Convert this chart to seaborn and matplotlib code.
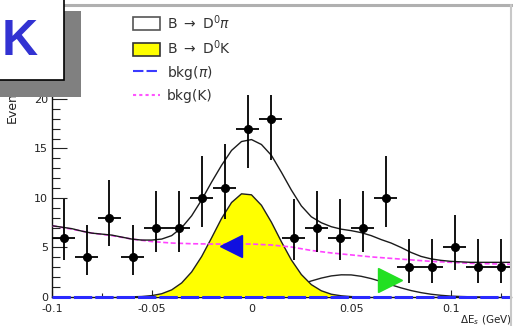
import numpy as np
import matplotlib
matplotlib.use("Agg")
import matplotlib.pyplot as plt
import seaborn as sns
from matplotlib.patches import Rectangle, Patch
from matplotlib.lines import Line2D
from matplotlib.ticker import MultipleLocator

# ---------------- data ----------------
bin_centers = [-0.0942, -0.0827, -0.0712, -0.0596, -0.0481, -0.0365, -0.0250, -0.0135,
               -0.0019, 0.0096, 0.0212, 0.0327, 0.0442, 0.0558, 0.0673, 0.0788,
               0.0904, 0.1019, 0.1135, 0.1250]
counts = [6, 4, 8, 4, 7, 7, 10, 11, 17, 18, 6, 7, 6, 7, 10, 3, 3, 5, 3, 3]
err_lo = [2.3, 1.8, 2.8, 1.8, 2.5, 2.5, 2.9, 3.1, 4.0, 4.2, 2.3, 2.5, 2.3, 2.5, 2.9, 1.6, 1.6, 2.3, 1.6, 1.6]
err_hi = [3.9, 3.3, 3.8, 3.3, 3.7, 3.7, 4.2, 4.5, 4.6, 5.3, 3.9, 3.7, 3.9, 3.7, 4.2, 2.9, 2.9, 3.3, 2.9, 2.9]
bin_half_width = 0.00577

total_x = [-0.100, -0.095, -0.090, -0.085, -0.080, -0.075, -0.070, -0.065, -0.060, -0.055,
           -0.050, -0.045, -0.040, -0.035, -0.030, -0.025, -0.020, -0.015, -0.010, -0.005,
           0.000, 0.005, 0.010, 0.015, 0.020, 0.025, 0.030, 0.035, 0.040, 0.045,
           0.050, 0.055, 0.060, 0.065, 0.070, 0.075, 0.080, 0.085, 0.090, 0.095,
           0.100, 0.105, 0.110, 0.115, 0.120, 0.125, 0.130]
total_fit = [7.2, 7.05, 6.9, 6.65, 6.45, 6.35, 6.25, 6.05, 5.85, 5.75,
             5.75, 5.85, 6.2, 7.0, 8.2, 9.8, 11.6, 13.3, 14.8, 15.7,
             15.9, 15.4, 14.3, 12.6, 10.8, 9.2, 8.1, 7.5, 7.1, 6.85,
             6.7, 6.5, 6.2, 5.8, 5.45, 5.0, 4.5, 4.1, 3.85, 3.7,
             3.6, 3.55, 3.5, 3.5, 3.5, 3.5, 3.5]

bkg_k_x = [-0.100, -0.090, -0.080, -0.070, -0.060, -0.050, -0.040, -0.030, -0.020, -0.010,
           0.000, 0.010, 0.020, 0.030, 0.040, 0.050, 0.060, 0.070, 0.080, 0.090,
           0.100, 0.110, 0.120, 0.130]
bkg_k = [7.2, 6.85, 6.45, 6.2, 5.85, 5.6, 5.45, 5.38, 5.35, 5.35,
         5.35, 5.25, 5.05, 4.7, 4.45, 4.25, 4.05, 3.9, 3.75, 3.6,
         3.5, 3.4, 3.35, 3.3]

sig_k_x = [-0.065, -0.060, -0.055, -0.050, -0.045, -0.040, -0.035, -0.030, -0.025, -0.020,
           -0.015, -0.010, -0.005, 0.000, 0.005, 0.010, 0.015, 0.020, 0.025, 0.030,
           0.035, 0.040, 0.045, 0.050, 0.055]
sig_k = [0.0, 0.02, 0.05, 0.14, 0.33, 0.72, 1.42, 2.53, 4.08, 5.97,
         7.93, 9.54, 10.42, 10.32, 9.26, 7.55, 5.58, 3.74, 2.27, 1.25,
         0.63, 0.28, 0.12, 0.04, 0.0]

sig_pi_x = [-0.010, 0.000, 0.005, 0.010, 0.015, 0.020, 0.025, 0.030, 0.035, 0.040,
            0.045, 0.050, 0.055, 0.060, 0.065, 0.070, 0.075, 0.080, 0.085, 0.090,
            0.095, 0.100, 0.105, 0.110, 0.115]
sig_pi = [0.0, 0.18, 0.30, 0.48, 0.70, 0.98, 1.30, 1.62, 1.91, 2.13,
          2.24, 2.23, 2.09, 1.86, 1.56, 1.23, 0.92, 0.65, 0.44, 0.28,
          0.17, 0.09, 0.05, 0.02, 0.0]

bkg_pi_x = [-0.100, 0.130]
bkg_pi = [0.0, 0.0]

arrow_k_pos = (-0.0105, 5.15)
arrow_pi_pos = (0.0695, 1.75)

x_ticks = [-0.1, -0.05, 0.0, 0.05, 0.1]
x_tick_labels = ["-0.1", "-0.05", "0", "0.05", "0.1"]
y_ticks = [0, 5, 10, 15, 20]
y_tick_labels = ["0", "5", "10", "15", "20"]

legend_labels = [r"B $\rightarrow$ D$^{0}\pi$", r"B $\rightarrow$ D$^{0}$K", r"bkg($\pi$)", "bkg(K)"]

# ---------------- styling ----------------
sns.set_theme(style="white")
plt.rcParams["font.family"] = ["DejaVu Sans"]
plt.rcParams["mathtext.fontset"] = "dejavusans"

W, H = 513, 326
fig = plt.figure(figsize=(W / 100, H / 100), dpi=100)
fig.patch.set_facecolor("white")

def fx(px):
    return px / W

def fy(py):
    return 1 - py / H

ax = fig.add_axes([fx(52), fy(297), (511 - 52) / W, (297 - 95) / H])
ax.set_facecolor("white")

# D0 pi component (white fill, black outline) under the yellow
ax.fill_between(sig_pi_x, 0, sig_pi, facecolor="white", edgecolor="none", zorder=2)
sns.lineplot(x=sig_pi_x, y=sig_pi, ax=ax, color="#202020", lw=1.0, estimator=None, sort=False, zorder=2.1)

# D0 K component (yellow)
ax.fill_between(sig_k_x, 0, sig_k, facecolor="#ffff00", edgecolor="none", zorder=3)
sns.lineplot(x=sig_k_x, y=sig_k, ax=ax, color="#202020", lw=1.0, estimator=None, sort=False, zorder=3.1)

# bkg(K)
ax.plot(bkg_k_x, bkg_k, color="#ff44ff", lw=1.2, ls=(0, (3, 1.5)), zorder=4)

# total fit
sns.lineplot(x=total_x, y=total_fit, ax=ax, color="#1a1a1a", lw=1.0, estimator=None, sort=False, zorder=4.5)

# bkg(pi) along the bottom
ax.plot(bkg_pi_x, bkg_pi, color="#2a2aff", lw=2.2, ls=(0, (6, 1)), zorder=5, clip_on=False)

# data points
ax.errorbar(bin_centers, counts, yerr=[err_lo, err_hi], xerr=bin_half_width, fmt="o",
            color="black", ms=5.5, elinewidth=1.3, capsize=0, zorder=6)

# arrows
ax.plot([arrow_k_pos[0]], [arrow_k_pos[1]], marker="<", ms=16.5, color="#1010e0", ls="none", zorder=7)
ax.plot([arrow_pi_pos[0]], [arrow_pi_pos[1]], marker=">", ms=17, color="#22e022", ls="none", zorder=7)

ax.set_xlim(-0.1, 0.1301)
ax.set_ylim(0, 20.4)
ax.set_xticks(x_ticks)
ax.set_xticklabels(x_tick_labels)
ax.set_yticks(y_ticks)
ax.set_yticklabels(y_tick_labels)
ax.xaxis.set_minor_locator(MultipleLocator(0.025))
ax.yaxis.set_minor_locator(MultipleLocator(1))
ax.tick_params(axis="y", which="major", direction="in", length=10.5, width=0.8,
               labelsize=8, pad=3, colors="#222222", left=True)
ax.tick_params(axis="y", which="minor", direction="in", length=5.5, width=0.8, left=True, colors="#222222")
ax.tick_params(axis="x", which="major", direction="in", length=5, width=0.8,
               labelsize=8, pad=5, colors="#222222", bottom=True)
ax.tick_params(axis="x", which="minor", direction="in", length=3, width=0.8, bottom=True, colors="#222222")
for s in ["top", "right"]:
    ax.spines[s].set_visible(False)
ax.spines["left"].set_color("#111111")
ax.spines["left"].set_linewidth(1.0)
ax.spines["bottom"].set_color("#111111")
ax.spines["bottom"].set_linewidth(1.0)
ax.set_xlabel("")
ax.set_ylabel("")

# axis labels as figure text
fig.text(fx(512), fy(320), r"$\Delta$E$_{s}$ (GeV)", ha="right", va="center", fontsize=7.5, color="#222222")
fig.text(fx(12), fy(123), "Events", rotation=90, ha="center", va="bottom",
         fontsize=9, color="#222222", zorder=1)

# legend
handles = [
    Patch(facecolor="white", edgecolor="#555555", linewidth=1.2),
    Patch(facecolor="#ffff00", edgecolor="#333333", linewidth=1.2),
    Line2D([0], [0], color="#3a3aff", lw=1.5, ls=(0, (5, 1.5))),
    Line2D([0], [0], color="#ff55ff", lw=1.5, ls=(0, (1.5, 1.5))),
]
leg = fig.legend(handles, legend_labels, loc="upper left", bbox_to_anchor=(fx(133), fy(13)),
                 frameon=False, prop={"family": "DejaVu Sans", "size": 10}, borderpad=0,
                 borderaxespad=0, labelspacing=0.5, handlelength=1.95, handleheight=1.05,
                 handletextpad=0.5)
for t in leg.get_texts():
    t.set_color("#333333")

# top / right frame lines
fig.add_artist(Line2D([fx(63), fx(513)], [fy(5), fy(5)], transform=fig.transFigure,
                      color="#b0b0b0", lw=2.2, zorder=4))
fig.add_artist(Line2D([fx(511), fx(511)], [fy(5), fy(326)], transform=fig.transFigure,
                      color="#c8c8c8", lw=1.5, zorder=4))

# title box with shadow
shadow = Rectangle((-0.05, fy(97)), fx(81) + 0.05, (97 - 11) / H, transform=fig.transFigure,
                   facecolor="#808080", edgecolor="none", zorder=10)
box = Rectangle((-0.05, fy(80)), fx(63.5) + 0.05, 80 / H + 0.05, transform=fig.transFigure,
                facecolor="white", edgecolor="black", lw=1.2, zorder=11)
fig.add_artist(shadow)
fig.add_artist(box)
fig.text(fx(2), fy(55), "K", ha="left", va="baseline", fontsize=36, fontweight="bold",
         family="Liberation Sans", color="#3232d2", zorder=12)

fig.savefig("out.png", dpi=100)
